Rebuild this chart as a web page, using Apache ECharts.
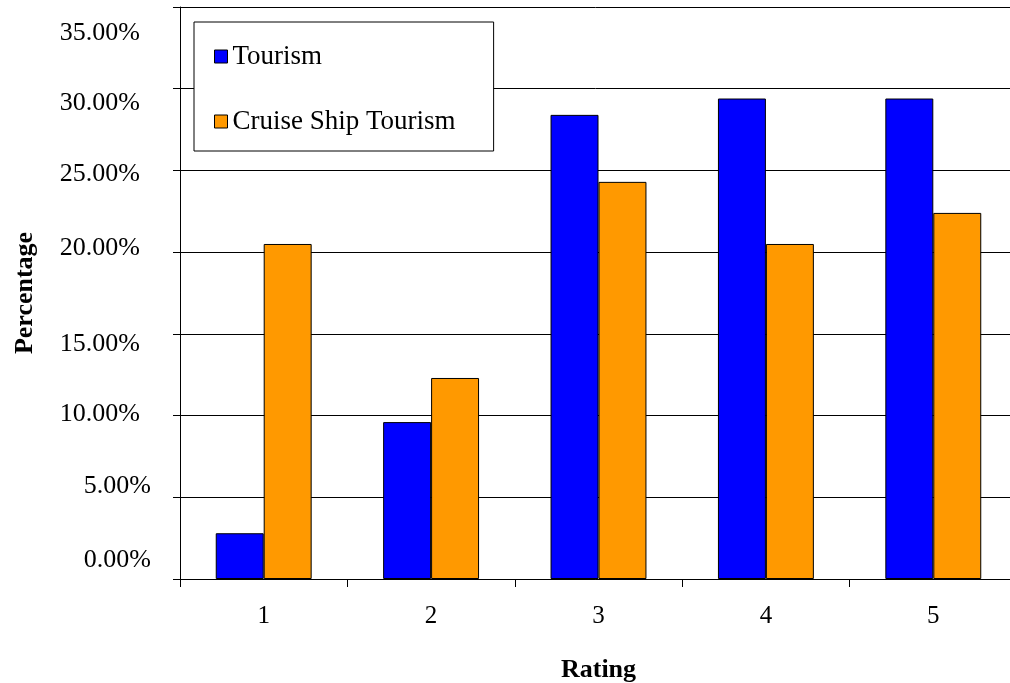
<!DOCTYPE html>
<html>
<head>
<meta charset="utf-8">
<script src="https://cdn.jsdelivr.net/npm/echarts@6/dist/echarts.min.js"></script>
<style>html,body{margin:0;padding:0;background:#fff}#c{width:1010px;height:683px}</style>
</head>
<body>
<div id="c"></div>
<script>
const categories = ['1', '2', '3', '4', '5'];
const tourism = [2.8, 9.6, 28.4, 29.4, 29.4];
const cruiseShipTourism = [20.5, 12.3, 24.3, 20.5, 22.4];
const seriesNames = ['Tourism', 'Cruise Ship Tourism'];
const yTicks = { min: 0, max: 35, interval: 5 };

const FONT = "'Liberation Serif','Times New Roman',serif";

// label placement quirks of the original export (style only)
const labelShift = [-19, -11, -1, 10, -4, 4, 14, 26];
const labelRightPad = [0, 0, 11, 11, 11, 11, 11, 11];
const rich = {};
labelShift.forEach((d, i) => {
  rich['k' + i] = {
    fontFamily: FONT, fontSize: 26, color: '#000',
    padding: [d > 0 ? 2 * d : 0, labelRightPad[i], d < 0 ? -2 * d : 0, 0]
  };
});

const chart = echarts.init(document.getElementById('c'), null, { renderer: 'canvas' });
chart.setOption({
  animation: false,
  backgroundColor: '#fff',
  textStyle: { fontFamily: FONT, color: '#000' },
  grid: { left: 180, top: 7, width: 837, height: 572, containLabel: false, outerBoundsMode: 'none' },
  legend: {
    orient: 'vertical', left: 194, top: 22,
    padding: [21, 38, 16, 20], itemGap: 38,
    itemWidth: 13, itemHeight: 13, icon: 'rect',
    borderColor: '#000', borderWidth: 1, backgroundColor: '#fff',
    textStyle: { fontFamily: FONT, fontSize: 27, color: '#000' },
    itemStyle: { borderColor: '#000', borderWidth: 1 },
    data: seriesNames
  },
  xAxis: {
    type: 'category', data: categories,
    name: 'Rating', nameLocation: 'middle', nameGap: 78,
    nameTextStyle: { fontFamily: FONT, fontSize: 26, fontWeight: 'bold', color: '#000' },
    axisLine: { lineStyle: { color: '#000', width: 1 } },
    axisTick: { show: true, length: 8, interval: 0, alignWithLabel: false, lineStyle: { color: '#000' } },
    axisLabel: { fontFamily: FONT, fontSize: 25, color: '#000', margin: 25 },
    splitLine: { show: false }
  },
  yAxis: {
    type: 'value', min: yTicks.min, max: yTicks.max, interval: yTicks.interval,
    name: 'Percentage', nameLocation: 'middle', nameGap: 142, nameRotate: 90,
    nameTextStyle: { fontFamily: FONT, fontSize: 26, fontWeight: 'bold', color: '#000' },
    axisLine: { show: true, lineStyle: { color: '#000', width: 1 } },
    axisTick: { show: true, length: 7, lineStyle: { color: '#000' } },
    axisLabel: {
      fontFamily: FONT, fontSize: 26, color: '#000', margin: 29,
      formatter: v => '{k' + Math.round((v - yTicks.min) / yTicks.interval) + '|' + v.toFixed(2) + '%}',
      rich: rich
    },
    splitLine: { show: true, lineStyle: { color: '#000', width: 1 } }
  },
  series: [
    { name: seriesNames[0], type: 'bar', data: tourism, barGap: '0%', barCategoryGap: '42.7%',
      itemStyle: { color: '#0000FF', borderColor: '#000', borderWidth: 1 } },
    { name: seriesNames[1], type: 'bar', data: cruiseShipTourism, barGap: '0%', barCategoryGap: '42.7%',
      itemStyle: { color: '#FF9900', borderColor: '#000', borderWidth: 1 } }
  ]
});
</script>
</body>
</html>
